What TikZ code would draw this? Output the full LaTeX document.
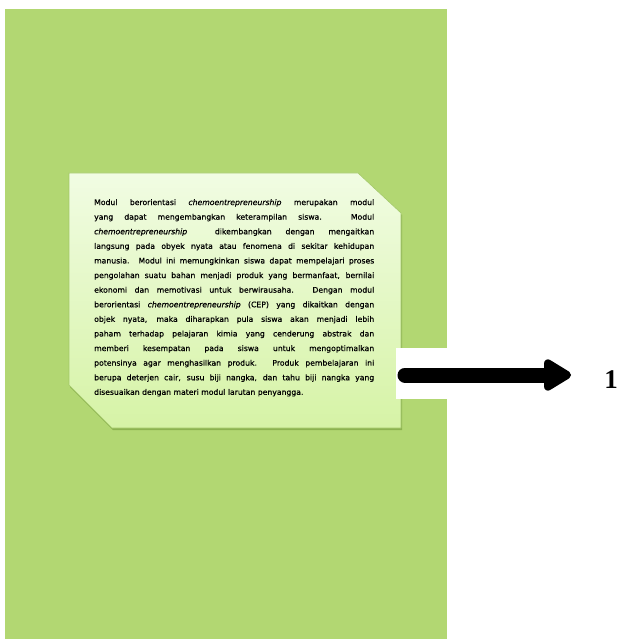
\documentclass[tikz,border=0pt]{standalone}
\usepackage{fontspec}
\setmainfont{DejaVu Sans}
\newfontfamily\blurbfont[FakeBold=0.6]{DejaVu Sans}
\newfontfamily\numfont{Liberation Serif}
\usetikzlibrary{arrows.meta}
\definecolor{pagegreen}{RGB}{178,215,114}
\definecolor{notetop}{RGB}{241,252,227}
\definecolor{notebot}{RGB}{214,243,166}
\definecolor{noteedge}{RGB}{163,200,104}
\definecolor{noteshade}{RGB}{140,178,80}

\begin{document}
\begin{tikzpicture}[line cap=round,line join=round,x=1pt,y=-1pt,
  sheet/.style={fill=pagegreen},
  note/.style={top color=notetop,bottom color=notebot,draw=noteedge,line width=0.6pt},
  blurb/.style={inner sep=0pt,anchor=north west,text width=280pt,align=justify,
    font=\blurbfont\fontsize{7.7}{14.6}\selectfont},
  pointer/.style={line width=15pt,-{Triangle[length=31pt,width=35pt,round]}}]
\useasboundingbox (0,0) rectangle (619,639);
% page
\fill[sheet] (5,9) rectangle (447,639);
%
% note with cut corners
\fill[noteshade] (70,175) -- (359,175) -- (402,215) -- (402,430) -- (113,430) -- (70,387) -- cycle;
\draw[note] (69,173) -- (358,173) -- (401,213) -- (401,428) -- (112,428) -- (69,385) -- cycle;
\node[blurb] (blurb) at (94,199) {Modul berorientasi \textit{chemoentrepreneurship} merupakan modul\linebreak
yang dapat mengembangkan keterampilan siswa. Modul\linebreak
\textit{chemoentrepreneurship}\ \ dikembangkan dengan mengaitkan\linebreak
langsung pada obyek nyata atau fenomena di sekitar kehidupan\linebreak
manusia. Modul ini memungkinkan siswa dapat mempelajari proses\linebreak
pengolahan suatu bahan menjadi produk yang bermanfaat, bernilai\linebreak
ekonomi dan memotivasi untuk berwirausaha. Dengan modul\linebreak
berorientasi \textit{chemoentrepreneurship} (CEP) yang dikaitkan dengan\linebreak
objek nyata, maka diharapkan pula siswa akan menjadi lebih\linebreak
paham terhadap pelajaran kimia yang cenderung abstrak dan\linebreak
memberi kesempatan pada siswa untuk mengoptimalkan\linebreak
potensinya agar menghasilkan produk. Produk pembelajaran ini\linebreak
berupa deterjen cair, susu biji nangka, dan tahu biji nangka yang\linebreak
disesuaikan dengan materi modul larutan penyangga.};
%
% pointer to label
\fill[white] (396,348) rectangle (452,399);
\node[inner sep=0pt,font=\numfont\bfseries\fontsize{27}{27}\selectfont] (num) at (611,380) {1};
\coordinate (tail) at (405,375);
\draw[pointer,shorten >=33pt] (tail) -- (tail -| num.west);
\end{tikzpicture}
\end{document}
